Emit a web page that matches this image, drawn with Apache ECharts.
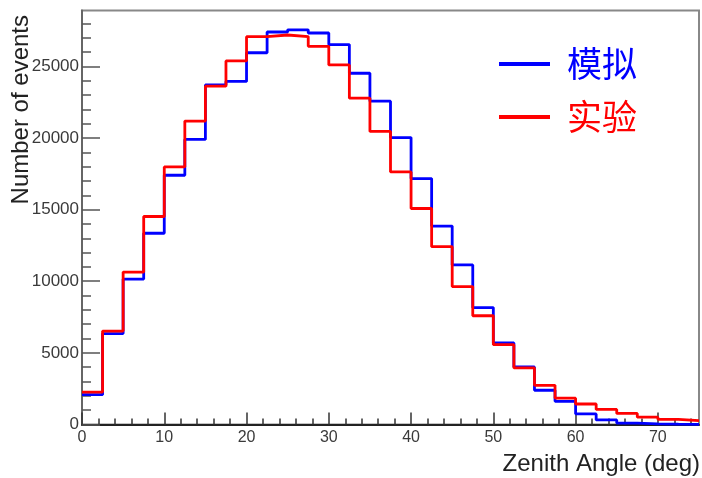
<!DOCTYPE html>
<html>
<head>
<meta charset="utf-8">
<script src="https://cdn.jsdelivr.net/npm/echarts@6/dist/echarts.min.js"></script>
<style>
  html, body { margin: 0; padding: 0; background: #ffffff; }
  #chart { width: 702px; height: 478px; }
</style>
</head>
<body>
<div id="chart"></div>
<script>
// Zenith-angle histograms, 2.5 degree bins from 0 to 75 degrees
const binLeftEdges = [0, 2.5, 5, 7.5, 10, 12.5, 15, 17.5, 20, 22.5,
                      25, 27.5, 30, 32.5, 35, 37.5, 40, 42.5, 45, 47.5,
                      50, 52.5, 55, 57.5, 60, 62.5, 65, 67.5, 70, 72.5];
const binUpperEdge = 75;

// 模拟 (simulation)
const simCounts = [2080, 6350, 10150, 13350, 17400, 19900, 23700, 23950, 25950, 27400,
                   27550, 27330, 26520, 24520, 22570, 20030, 17170, 13850, 11140, 8160,
                   5690, 4020, 2390, 1620, 740, 320, 100, 40, 20, 10];
// 实验 (experiment)
const expCounts = [2260, 6520, 10640, 14520, 17980, 21180, 23620, 25380, 27070, 27190,
                   27080, 26400, 25100, 22780, 20460, 17630, 15080, 12410, 9630, 7590,
                   5570, 3950, 2735, 1840, 1430, 1050, 770, 510, 360, 270];

const seriesNames = ['模拟', '实验'];
const xTickLabels = [0, 10, 20, 30, 40, 50, 60, 70];
const yTickLabels = [0, 5000, 10000, 15000, 20000, 25000];
const yAxisMax = 28900;

// minor tick positions between the labelled ticks
const xMinorTicks = [];
for (let v = 2; v < binUpperEdge; v += 2) if (v % 10 !== 0) xMinorTicks.push(v);
const yMinorTicks = [];
for (let v = 1000; v < yAxisMax; v += 1000) if (v % 5000 !== 0) yMinorTicks.push(v);

// step outline: each bin's count holds from its left edge to the next edge
function stepData(counts) {
  const pts = binLeftEdges.map((x, i) => [x, counts[i]]);
  pts.push([binUpperEdge, counts[counts.length - 1]]);
  return pts;
}

const labelFont = 'Liberation Sans, Arial, Helvetica, sans-serif';
const cjkFont = 'Noto Sans CJK SC, sans-serif';

const chart = echarts.init(document.getElementById('chart'), null, { renderer: 'canvas' });

const option = {
  animation: false,
  backgroundColor: '#ffffff',
  grid: {
    left: 82, right: 3, top: 10.5, bottom: 53.5,
    show: true, borderColor: '#888888', borderWidth: 2, backgroundColor: 'transparent'
  },
  legend: {
    orient: 'vertical',
    left: 499,
    top: 45,
    padding: 0,
    itemGap: 15,
    itemWidth: 51,
    itemHeight: 4,
    icon: 'rect',
    data: [
      { name: seriesNames[0], textStyle: { color: '#0000ff' } },
      { name: seriesNames[1], textStyle: { color: '#ff0000' } }
    ],
    textStyle: { fontFamily: cjkFont, fontSize: 35, lineHeight: 38, padding: [0, 0, 0, 12] }
  },
  xAxis: [
    {
      type: 'value', min: 0, max: binUpperEdge, position: 'bottom',
      axisLine: { show: true, onZero: false, lineStyle: { color: '#222222', width: 2 } },
      axisTick: { show: true, inside: true, length: 12, customValues: xTickLabels,
                  lineStyle: { color: '#333333', width: 1.5 } },
      axisLabel: { customValues: xTickLabels, fontFamily: labelFont, fontSize: 16,
                   color: '#3a3a3a', margin: 5, formatter: v => String(v) },
      splitLine: { show: false }
    },
    {
      type: 'value', min: 0, max: binUpperEdge, position: 'bottom',
      axisLine: { show: false },
      axisTick: { show: true, inside: true, length: 6, customValues: xMinorTicks,
                  lineStyle: { color: '#333333', width: 1.5 } },
      axisLabel: { show: false },
      splitLine: { show: false }
    }
  ],
  yAxis: [
    {
      type: 'value', min: 0, max: yAxisMax, position: 'left',
      axisLine: { show: true, onZero: false, lineStyle: { color: '#666666', width: 2 } },
      axisTick: { show: true, inside: true, length: 18, customValues: yTickLabels,
                  lineStyle: { color: '#555555', width: 1.5 } },
      axisLabel: { customValues: yTickLabels, fontFamily: labelFont, fontSize: 17,
                   color: '#3a3a3a', margin: 3, formatter: v => String(v) },
      splitLine: { show: false }
    },
    {
      type: 'value', min: 0, max: yAxisMax, position: 'left',
      axisLine: { show: false },
      axisTick: { show: true, inside: true, length: 9, customValues: yMinorTicks,
                  lineStyle: { color: '#555555', width: 1.5 } },
      axisLabel: { show: false },
      splitLine: { show: false }
    }
  ],
  series: [
    {
      name: seriesNames[0], type: 'line', step: 'end',
      xAxisIndex: 0, yAxisIndex: 0,
      data: stepData(simCounts),
      showSymbol: false, symbol: 'none',
      lineStyle: { color: '#0000ff', width: 2.8 },
      itemStyle: { color: '#0000ff' },
      z: 2
    },
    {
      name: seriesNames[1], type: 'line', step: 'end',
      xAxisIndex: 0, yAxisIndex: 0,
      data: stepData(expCounts),
      showSymbol: false, symbol: 'none',
      lineStyle: { color: '#ff0000', width: 2.8 },
      itemStyle: { color: '#ff0000' },
      z: 3
    }
  ],
  graphic: [
    {
      type: 'text', x: 21, y: 15, rotation: Math.PI / 2,
      style: { text: 'Number of events', font: '24px ' + labelFont, fill: '#222222',
               textAlign: 'right', textVerticalAlign: 'middle' }
    },
    {
      type: 'text', x: 700, y: 464,
      style: { text: 'Zenith Angle (deg)', font: '24px ' + labelFont, fill: '#222222',
               textAlign: 'right', textVerticalAlign: 'middle' }
    }
  ]
};

chart.setOption(option);
</script>
</body>
</html>
